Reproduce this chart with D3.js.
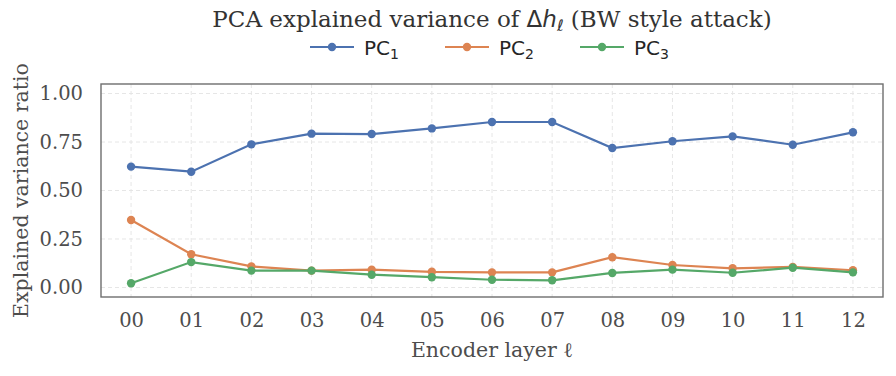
<!DOCTYPE html>
<html>
<head>
<meta charset="utf-8">
<script src="https://cdn.jsdelivr.net/npm/d3@7"></script>
<style>
  body { margin: 0; background: #fff; }
</style>
</head>
<body>
<svg id="chart" width="896" height="376"></svg>
<script>
// data
var layers = ["00","01","02","03","04","05","06","07","08","09","10","11","12"];
var pc1 = [0.623,0.597,0.738,0.793,0.791,0.820,0.853,0.853,0.719,0.754,0.779,0.736,0.800];
var pc2 = [0.348,0.171,0.109,0.087,0.092,0.081,0.078,0.078,0.156,0.116,0.099,0.106,0.089];
var pc3 = [0.022,0.131,0.087,0.087,0.066,0.053,0.040,0.037,0.075,0.092,0.076,0.102,0.078];
var yTicks = [0, 0.25, 0.5, 0.75, 1.0];
var seriesNames = ["1","2","3"];
var colors = ["#4c72b0","#dd8452","#55a868"];

var svg = d3.select("#chart");
var pLeft = 101, pRight = 883, pTop = 84, pBottom = 297;
var serif = "DejaVu Serif", sans = "DejaVu Sans";

var x = d3.scaleLinear().domain([-0.5, 12.5]).range([pLeft, pRight]);
var y = d3.scaleLinear().domain([-0.049, 1.049]).range([pBottom, pTop]);

// grid
var grid = svg.append("g");
grid.selectAll("line.v").data(layers).enter().append("line")
  .attr("x1", function(d,i){ return x(i); }).attr("x2", function(d,i){ return x(i); })
  .attr("y1", pTop).attr("y2", pBottom)
  .attr("stroke", "#e3e3e3").attr("stroke-width", 0.9).attr("stroke-dasharray", "4,3");
grid.selectAll("line.h").data(yTicks).enter().append("line")
  .attr("x1", pLeft).attr("x2", pRight)
  .attr("y1", function(d){ return y(d); }).attr("y2", function(d){ return y(d); })
  .attr("stroke", "#e3e3e3").attr("stroke-width", 0.9).attr("stroke-dasharray", "4,3");

// axes (labels only, no tick marks)
var axisY = d3.axisLeft(y).tickValues(yTicks).tickFormat(d3.format(".2f")).tickSize(0).tickPadding(18);
var gY = svg.append("g").attr("transform", "translate(" + pLeft + ",0)").call(axisY);
gY.select(".domain").remove();
gY.selectAll("text").attr("font-family", serif).attr("font-size", 19.5).attr("fill", "#4d4d4d");

var axisX = d3.axisBottom(x).tickValues(d3.range(layers.length)).tickFormat(function(i){ return layers[i]; }).tickSize(0).tickPadding(16);
var gX = svg.append("g").attr("transform", "translate(0," + pBottom + ")").call(axisX);
gX.select(".domain").remove();
gX.selectAll("text").attr("font-family", serif).attr("font-size", 19.5).attr("fill", "#4d4d4d");

// lines + markers
var all = [pc1, pc2, pc3];
var line = d3.line().x(function(d,i){ return x(i); }).y(function(d){ return y(d); });
all.forEach(function(s, k){
  svg.append("path").datum(s).attr("d", line)
    .attr("fill", "none").attr("stroke", colors[k]).attr("stroke-width", 2.2);
  svg.append("g").selectAll("circle").data(s).enter().append("circle")
    .attr("cx", function(d,i){ return x(i); }).attr("cy", function(d){ return y(d); })
    .attr("r", 4.2).attr("fill", colors[k]);
});

// frame
svg.append("rect").attr("x", pLeft).attr("y", pTop).attr("width", pRight-pLeft).attr("height", pBottom-pTop)
  .attr("fill", "none").attr("stroke", "#6e6e6e").attr("stroke-width", 1.4);

// axis titles
svg.append("text").attr("x", (pLeft+pRight)/2).attr("y", 357).attr("text-anchor", "middle")
  .attr("font-family", serif).attr("font-size", 20.5).attr("fill", "#4d4d4d").text("Encoder layer ℓ");
svg.append("text").attr("transform", "translate(28," + ((pTop+pBottom)/2) + ") rotate(-90)")
  .attr("text-anchor", "middle").attr("font-family", serif).attr("font-size", 20.5).attr("fill", "#4d4d4d")
  .text("Explained variance ratio");

// title
var title = svg.append("text").attr("x", (pLeft+pRight)/2).attr("y", 27).attr("text-anchor", "middle")
  .attr("font-family", serif).attr("font-size", 23).attr("fill", "#333");
title.append("tspan").text("PCA explained variance of ");
title.append("tspan").attr("font-family", sans).text("Δ");
title.append("tspan").attr("font-family", sans).attr("font-style", "oblique").text("h");
title.append("tspan").attr("font-family", sans).attr("font-style", "oblique").attr("font-size", 16).attr("dy", 4).text("ℓ");
title.append("tspan").attr("dy", -4).text(" (BW style attack)");

// legend
var legX = [310, 445, 580];
var leg = svg.append("g");
seriesNames.forEach(function(n, k){
  var g = leg.append("g").attr("transform", "translate(" + legX[k] + ",47)");
  g.append("line").attr("x1", 0).attr("x2", 44).attr("stroke", colors[k]).attr("stroke-width", 2.2);
  g.append("circle").attr("cx", 22).attr("r", 4.2).attr("fill", colors[k]);
  var t = g.append("text").attr("x", 54).attr("y", 8).attr("font-family", sans)
    .attr("font-size", 20).attr("fill", "#262626");
  t.append("tspan").text("PC");
  t.append("tspan").attr("font-size", 14).attr("dy", 4).text(n);
});
</script>
</body>
</html>
